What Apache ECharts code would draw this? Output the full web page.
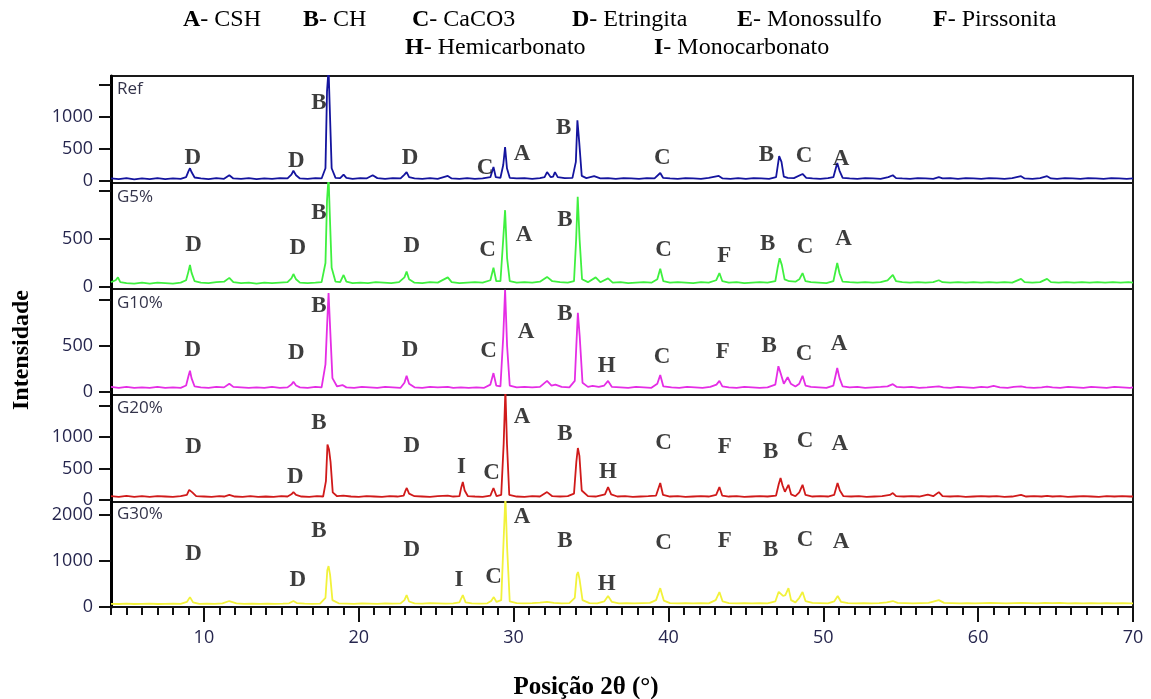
<!DOCTYPE html>
<html>
<head>
<meta charset="utf-8">
<script src="https://cdn.jsdelivr.net/npm/echarts@6/dist/echarts.min.js"></script>
<style>
html,body{margin:0;padding:0;background:#fff;}
#chart{width:1151px;height:699px;}
</style>
</head>
<body>
<div id="chart"></div>
<script>
// ---------- DATA ----------
const panelNames = ['Ref', 'G5%', 'G10%', 'G20%', 'G30%'];
const panelColors = ['#14149e', '#3ff03f', '#e52de5', '#d01a1a', '#f2f23a'];

const xLabels = [10, 20, 30, 40, 50, 60, 70];
const xMinorTicks = [4,5,6,7,8,9,11,12,13,14,15,16,17,18,19,21,22,23,24,25,26,27,28,29,31,32,33,34,35,36,37,38,39,41,42,43,44,45,46,47,48,49,51,52,53,54,55,56,57,58,59,61,62,63,64,65,66,67,68,69];

const yTicksRef = [0, 500, 1000, 1500];
const yLabelsRef = [0, 500, 1000];
const yTicksG5 = [0, 500, 1000];
const yLabelsG5 = [0, 500];
const yTicksG10 = [0, 500, 1000];
const yLabelsG10 = [0, 500];
const yTicksG20 = [0, 500, 1000, 1500];
const yLabelsG20 = [0, 500, 1000];
const yTicksG30 = [0, 1000, 2000];
const yLabelsG30 = [0, 1000, 2000];

const legendLine1 = [['A', '- CSH'], ['B', '- CH'], ['C', '- CaCO3'], ['D', '- Etringita'], ['E', '- Monossulfo'], ['F', '- Pirssonita']];
const legendLine2 = [['H', '- Hemicarbonato'], ['I', '- Monocarbonato']];

const refData = [[4.0,40],[4.5,30],[5.0,45],[5.5,25],[6.0,40],[6.5,30],[7.0,45],[7.5,30],[8.0,40],[8.5,35],[8.85,60],[9.0,150],[9.1,200],[9.2,140],[9.4,55],[9.8,40],[10.3,30],[10.8,45],[11.3,35],[11.64,90],[11.9,40],[12.4,35],[12.9,45],[13.4,30],[13.9,40],[14.4,35],[14.9,45],[15.4,40],[15.65,100],[15.78,160],[15.95,90],[16.2,40],[16.7,35],[17.2,45],[17.6,40],[17.85,200],[17.95,1400],[18.05,1750],[18.12,1200],[18.25,200],[18.5,50],[18.8,45],[19.02,100],[19.2,50],[19.6,35],[20.1,45],[20.5,40],[20.9,90],[21.2,45],[21.7,35],[22.2,45],[22.7,40],[22.95,100],[23.09,140],[23.25,60],[23.6,40],[24.1,35],[24.6,45],[25.1,35],[25.75,80],[26.0,40],[26.5,35],[27.0,45],[27.5,35],[28.0,40],[28.5,60],[28.7,220],[28.85,60],[29.15,50],[29.33,250],[29.45,530],[29.57,200],[29.75,50],[30.2,40],[30.7,45],[31.2,35],[31.7,45],[32.0,60],[32.16,140],[32.4,60],[32.55,70],[32.67,140],[32.85,60],[33.3,45],[33.8,50],[34.02,300],[34.12,950],[34.24,600],[34.4,80],[34.7,45],[35.2,75],[35.6,40],[36.1,45],[36.6,35],[37.1,45],[37.6,40],[38.1,35],[38.6,45],[39.1,40],[39.47,125],[39.65,50],[40.1,40],[40.6,35],[41.1,45],[41.6,40],[42.1,35],[42.6,50],[43.25,80],[43.5,40],[44.0,35],[44.5,45],[45.0,35],[45.5,45],[46.0,40],[46.5,35],[46.95,60],[47.15,390],[47.3,300],[47.45,70],[47.7,50],[48.1,45],[48.66,110],[48.9,50],[49.3,40],[49.8,35],[50.3,45],[50.65,60],[50.9,280],[51.05,160],[51.25,50],[51.7,40],[52.2,35],[52.7,45],[53.2,40],[53.7,35],[54.2,60],[54.49,90],[54.7,45],[55.1,40],[55.6,35],[56.1,45],[56.6,40],[57.1,35],[57.46,60],[57.7,40],[58.2,45],[58.7,35],[59.2,45],[59.7,40],[60.2,35],[60.7,45],[61.2,40],[61.7,35],[62.2,45],[62.77,75],[63.0,40],[63.5,35],[64.0,45],[64.45,75],[64.7,40],[65.1,35],[65.6,45],[66.1,40],[66.6,35],[67.1,45],[67.6,40],[68.1,35],[68.6,45],[69.1,40],[69.6,35],[70.0,40]];

const g5Data = [[4.0,50],[4.3,70],[4.45,100],[4.6,50],[5.0,40],[5.5,35],[6.0,45],[6.5,35],[7.0,45],[7.5,40],[8.0,35],[8.5,45],[8.85,70],[9.0,160],[9.1,230],[9.2,150],[9.4,60],[9.8,45],[10.3,40],[10.8,50],[11.3,55],[11.64,95],[11.9,50],[12.4,40],[12.9,45],[13.4,35],[13.9,45],[14.4,40],[14.9,45],[15.4,50],[15.65,90],[15.78,135],[15.95,80],[16.2,45],[16.7,40],[17.2,45],[17.6,50],[17.85,250],[17.95,900],[18.05,1150],[18.12,800],[18.25,200],[18.5,55],[18.8,50],[19.02,125],[19.2,55],[19.6,40],[20.1,45],[20.6,40],[21.1,50],[21.6,45],[22.1,40],[22.6,50],[22.95,100],[23.09,160],[23.25,80],[23.6,45],[24.1,40],[24.6,50],[25.1,45],[25.75,100],[26.0,50],[26.5,40],[27.0,45],[27.5,50],[28.0,45],[28.5,70],[28.7,200],[28.88,60],[29.15,60],[29.33,500],[29.45,800],[29.58,300],[29.75,60],[30.2,45],[30.7,50],[31.2,45],[31.7,55],[32.16,105],[32.5,60],[33.0,50],[33.5,45],[33.9,60],[34.04,500],[34.14,940],[34.26,500],[34.42,80],[34.8,50],[35.3,100],[35.6,50],[36.1,90],[36.4,45],[36.9,50],[37.4,40],[37.9,45],[38.4,50],[38.9,45],[39.28,80],[39.47,190],[39.67,60],[40.1,45],[40.6,50],[41.1,45],[41.6,40],[42.1,50],[42.6,45],[43.08,70],[43.29,145],[43.48,60],[43.9,45],[44.4,50],[44.9,40],[45.4,45],[45.9,50],[46.4,45],[46.9,60],[47.05,200],[47.18,300],[47.32,230],[47.5,80],[47.8,60],[48.2,55],[48.45,80],[48.66,145],[48.85,60],[49.2,50],[49.7,45],[50.2,40],[50.65,60],[50.9,250],[51.05,140],[51.25,55],[51.7,50],[52.2,45],[52.7,50],[53.2,45],[53.7,50],[54.15,70],[54.49,125],[54.7,60],[55.1,50],[55.6,45],[56.1,50],[56.6,45],[57.1,50],[57.46,70],[57.7,50],[58.2,45],[58.7,50],[59.2,45],[59.7,50],[60.2,45],[60.7,50],[61.2,45],[61.7,50],[62.2,45],[62.77,85],[63.0,50],[63.5,45],[64.0,50],[64.45,85],[64.7,50],[65.2,45],[65.7,50],[66.2,45],[66.7,50],[67.2,45],[67.7,50],[68.2,45],[68.7,50],[69.2,45],[69.7,50],[70.0,45]];

const g10Data = [[4.0,55],[4.5,45],[5.0,55],[5.5,45],[6.0,50],[6.5,45],[7.0,55],[7.5,45],[8.0,50],[8.5,45],[8.85,70],[9.0,170],[9.1,230],[9.2,150],[9.4,60],[9.8,50],[10.3,45],[10.8,55],[11.3,50],[11.64,90],[11.9,55],[12.4,50],[12.9,45],[13.4,50],[13.9,45],[14.4,55],[14.9,45],[15.4,50],[15.65,80],[15.78,110],[15.95,70],[16.2,50],[16.7,45],[17.2,55],[17.6,50],[17.85,300],[17.95,705],[18.05,1075],[18.15,700],[18.3,150],[18.6,60],[18.95,75],[19.2,50],[19.7,45],[20.2,55],[20.7,50],[21.2,45],[21.7,55],[22.2,50],[22.7,45],[22.95,100],[23.09,175],[23.25,90],[23.6,50],[24.1,45],[24.6,55],[25.1,50],[25.75,55],[26.1,45],[26.6,50],[27.1,45],[27.6,50],[28.1,45],[28.5,80],[28.7,205],[28.88,70],[29.15,60],[29.33,600],[29.45,1110],[29.58,500],[29.75,70],[30.2,50],[30.7,55],[31.2,50],[31.7,55],[32.16,120],[32.45,70],[32.7,80],[33.1,55],[33.6,50],[33.95,120],[34.05,500],[34.15,860],[34.27,600],[34.45,100],[34.8,55],[35.1,65],[35.5,55],[35.85,70],[36.1,120],[36.35,55],[36.9,50],[37.4,45],[37.9,55],[38.4,50],[38.9,45],[39.28,90],[39.47,185],[39.67,60],[40.2,50],[40.7,45],[41.2,55],[41.7,50],[42.2,45],[42.7,55],[43.1,80],[43.29,120],[43.48,60],[43.9,50],[44.4,45],[44.9,55],[45.4,50],[45.9,45],[46.4,50],[46.9,80],[47.1,280],[47.25,200],[47.45,90],[47.7,160],[47.9,90],[48.2,60],[48.45,90],[48.66,175],[48.85,70],[49.2,55],[49.7,50],[50.2,45],[50.65,70],[50.9,260],[51.05,150],[51.25,60],[51.7,50],[52.2,55],[52.7,45],[53.2,50],[53.7,55],[54.15,60],[54.49,85],[54.75,55],[55.2,50],[55.7,55],[56.2,45],[56.7,50],[57.46,60],[57.75,50],[58.2,45],[58.7,55],[59.2,50],[59.7,45],[60.2,55],[60.6,50],[61.0,65],[61.4,50],[61.9,45],[62.3,55],[62.77,60],[63.1,50],[63.6,45],[64.1,50],[64.45,58],[64.8,50],[65.3,45],[65.8,55],[66.3,50],[66.8,45],[67.3,55],[67.8,50],[68.3,45],[68.8,55],[69.3,50],[69.8,45],[70.0,50]];

const g20Data = [[4.0,60],[4.5,50],[5.0,65],[5.5,50],[6.0,60],[6.5,50],[7.0,60],[7.5,55],[8.0,50],[8.5,60],[8.9,80],[9.05,160],[9.12,190],[9.25,120],[9.5,60],[10.0,55],[10.5,50],[11.0,60],[11.3,55],[11.64,80],[12.0,55],[12.5,50],[13.0,60],[13.5,50],[14.0,55],[14.5,50],[15.0,60],[15.4,55],[15.65,90],[15.78,125],[15.95,80],[16.3,55],[16.8,50],[17.3,60],[17.7,55],[17.88,300],[17.98,880],[18.08,800],[18.18,600],[18.32,120],[18.6,60],[19.0,70],[19.5,55],[20.0,50],[20.5,60],[21.0,55],[21.5,50],[22.0,60],[22.5,55],[22.9,70],[23.02,150],[23.1,190],[23.25,100],[23.6,60],[24.1,55],[24.6,50],[25.1,60],[25.75,70],[26.1,55],[26.5,60],[26.62,200],[26.72,285],[26.84,150],[27.05,60],[27.5,55],[28.0,50],[28.5,70],[28.7,190],[28.9,60],[29.2,80],[29.36,900],[29.47,1750],[29.57,900],[29.72,80],[30.2,55],[30.7,50],[31.2,60],[31.7,55],[32.16,125],[32.5,60],[33.0,55],[33.5,60],[33.9,100],[34.05,600],[34.15,825],[34.25,700],[34.4,150],[34.8,60],[35.3,55],[35.9,90],[36.1,205],[36.3,90],[36.7,55],[37.2,60],[37.7,50],[38.2,55],[38.7,60],[39.2,70],[39.47,270],[39.65,80],[40.1,55],[40.6,60],[41.1,50],[41.6,55],[42.1,60],[42.6,55],[43.08,80],[43.29,205],[43.47,70],[43.9,55],[44.4,60],[44.9,50],[45.4,55],[45.9,60],[46.4,55],[46.95,70],[47.12,250],[47.24,350],[47.37,230],[47.52,130],[47.75,240],[47.92,90],[48.2,60],[48.45,120],[48.66,240],[48.85,80],[49.3,55],[49.8,60],[50.3,55],[50.7,80],[50.92,270],[51.07,150],[51.3,60],[51.8,55],[52.3,60],[52.8,50],[53.3,55],[53.8,60],[54.3,80],[54.49,110],[54.7,60],[55.2,55],[55.7,60],[56.2,55],[56.75,85],[57.1,60],[57.46,125],[57.7,60],[58.2,55],[58.7,60],[59.2,50],[59.7,55],[60.2,60],[60.7,55],[61.2,60],[61.7,50],[62.2,55],[62.77,80],[63.1,55],[63.6,60],[64.1,55],[64.45,65],[64.8,55],[65.3,60],[65.8,50],[66.3,55],[66.8,60],[67.3,55],[67.8,50],[68.3,60],[68.8,55],[69.3,60],[69.8,55],[70.0,55]];

const g30Data = [[4.0,70],[4.5,65],[5.0,75],[5.5,65],[6.0,70],[6.5,75],[7.0,65],[7.5,70],[8.0,75],[8.5,70],[8.9,110],[9.1,215],[9.3,100],[9.7,70],[10.2,75],[10.7,70],[11.2,80],[11.64,130],[12.1,80],[12.6,70],[13.1,75],[13.6,70],[14.1,75],[14.6,70],[15.1,75],[15.5,80],[15.78,130],[16.0,85],[16.5,75],[17.0,70],[17.5,75],[17.85,200],[17.97,800],[18.05,890],[18.15,700],[18.3,150],[18.7,80],[19.2,75],[19.7,70],[20.2,80],[20.7,75],[21.2,70],[21.7,80],[22.2,75],[22.7,80],[22.95,150],[23.09,260],[23.25,120],[23.6,80],[24.1,75],[24.6,85],[25.1,80],[25.6,75],[26.1,80],[26.5,100],[26.72,260],[26.9,100],[27.3,80],[27.8,75],[28.3,80],[28.55,130],[28.72,215],[28.9,110],[29.2,150],[29.36,1500],[29.47,2400],[29.58,1300],[29.75,120],[30.2,85],[30.7,80],[31.2,85],[31.7,95],[32.16,110],[32.6,90],[33.1,80],[33.6,85],[33.95,200],[34.08,700],[34.16,760],[34.26,600],[34.45,150],[34.9,85],[35.4,80],[35.85,120],[36.1,240],[36.35,110],[36.8,80],[37.3,85],[37.8,80],[38.3,85],[38.8,90],[39.2,150],[39.47,410],[39.7,140],[40.1,85],[40.6,80],[41.1,85],[41.6,80],[42.1,85],[42.6,80],[43.05,150],[43.29,325],[43.5,120],[43.9,85],[44.4,80],[44.9,85],[45.4,80],[45.9,85],[46.4,80],[46.9,120],[47.12,330],[47.24,370],[47.4,240],[47.55,260],[47.75,410],[47.92,150],[48.2,100],[48.45,200],[48.66,325],[48.85,130],[49.3,90],[49.8,85],[50.3,80],[50.7,120],[50.93,240],[51.15,110],[51.6,85],[52.1,80],[52.6,85],[53.1,80],[53.6,85],[54.1,100],[54.49,130],[54.8,90],[55.3,85],[55.8,80],[56.3,85],[56.8,90],[57.46,150],[57.8,90],[58.3,85],[58.8,80],[59.3,85],[59.8,80],[60.3,85],[60.8,90],[61.3,85],[61.8,80],[62.3,85],[62.8,90],[63.3,85],[63.8,80],[64.3,90],[64.8,85],[65.3,90],[65.8,80],[66.3,85],[66.8,80],[67.3,85],[67.8,80],[68.3,85],[68.8,80],[69.3,85],[69.8,80],[70.0,80]];

// peak labels: [letter, 2theta, intensity position]
const refPeakLabels = [['D',9.29,355],['D',15.97,317],['B',17.42,1214],['D',23.31,355],['C',28.16,208],['A',30.54,417],['B',33.24,833],['C',39.6,355],['B',46.33,406],['C',48.75,390],['A',51.14,339]];
const g5PeakLabels = [['D',9.33,438],['D',16.06,410],['B',17.42,774],['D',23.42,430],['C',28.31,386],['A',30.68,542],['B',33.32,698],['C',39.69,386],['F',43.61,326],['B',46.4,448],['C',48.82,420],['A',51.3,497]];
const g10PeakLabels = [['D',9.29,457],['D',15.97,427],['B',17.42,935],['D',23.31,457],['C',28.38,446],['A',30.81,655],['B',33.32,848],['H',36.01,286],['C',39.58,377],['F',43.5,438],['B',46.5,503],['C',48.75,410],['A',51.01,518]];
const g20PeakLabels = [['D',9.33,846],['D',15.9,360],['B',17.42,1217],['D',23.42,862],['I',26.64,529],['C',28.58,423],['A',30.54,1323],['B',33.32,1047],['H',36.09,450],['C',39.69,899],['F',43.64,846],['B',46.6,757],['C',48.82,936],['A',51.07,884]];
const g30PeakLabels = [['D',9.33,1146],['D',16.06,587],['B',17.42,1659],['D',23.42,1239],['I',26.48,587],['C',28.71,646],['A',30.54,1963],['B',33.32,1435],['H',36.01,500],['C',39.69,1398],['F',43.64,1435],['B',46.6,1239],['C',48.82,1457],['A',51.14,1420]];

// ---------- LAYOUT ----------
const panelData = [refData, g5Data, g10Data, g20Data, g30Data];
const panelLabels = [refPeakLabels, g5PeakLabels, g10PeakLabels, g20PeakLabels, g30PeakLabels];
const panelYTicks = [yTicksRef, yTicksG5, yTicksG10, yTicksG20, yTicksG30];
const panelYLabels = [yLabelsRef, yLabelsG5, yLabelsG10, yLabelsG20, yLabelsG30];
const panelYRange = [[-31, 1641], [-21, 1083], [-33, 1119], [-32, 1666], [0, 2283]];
const panelBox = [[76, 107], [183, 106], [289, 106], [395, 107], [502, 105]];

const tickColor = '#26264e';
const sansFont = 'Open Sans';
const serifFont = 'Liberation Serif';
const plainNum = v => String(v);

const grids = panelBox.map(b => ({
  left: 111, width: 1022, top: b[0], height: b[1],
  show: true, borderColor: '#1a1a1a', borderWidth: 2, backgroundColor: 'transparent'
}));

const xAxes = panelBox.map((b, i) => ({
  type: 'value', gridIndex: i, min: 4, max: 70, position: 'bottom',
  axisLine: { show: i === 4, lineStyle: { color: '#111', width: 2 } },
  axisTick: i === 4 ? { show: true, customValues: xLabels, length: 15, inside: false, lineStyle: { color: '#111', width: 2 } } : { show: false },
  axisLabel: i === 4 ? { show: true, customValues: xLabels, formatter: plainNum, color: tickColor, fontSize: 18, fontFamily: sansFont, margin: 22 } : { show: false },
  splitLine: { show: false }
}));
xAxes.push({
  type: 'value', gridIndex: 4, min: 4, max: 70, position: 'bottom',
  axisLine: { show: false },
  axisTick: { show: true, customValues: xMinorTicks, length: 8, lineStyle: { color: '#111', width: 2 } },
  axisLabel: { show: false },
  splitLine: { show: false }
});

const yAxes = panelBox.map((b, i) => ({
  type: 'value', gridIndex: i, min: panelYRange[i][0], max: panelYRange[i][1],
  axisLine: { show: true, onZero: false, lineStyle: { color: '#000', width: 3 } },
  axisTick: { show: true, customValues: panelYTicks[i], length: 12, lineStyle: { color: '#111', width: 2 } },
  axisLabel: { show: true, customValues: panelYLabels[i], formatter: plainNum, color: tickColor, fontSize: 18, fontFamily: sansFont, margin: 18 },
  splitLine: { show: false }
}));

const series = [];
panelData.forEach((d, i) => {
  series.push({
    type: 'line', xAxisIndex: i, yAxisIndex: i, data: d, showSymbol: false, symbol: 'none',
    lineStyle: { color: panelColors[i], width: 1.8 }, clip: true, z: 3
  });
  series.push({
    type: 'scatter', xAxisIndex: i, yAxisIndex: i, symbolSize: 0, silent: true, z: 5,
    data: panelLabels[i].map(p => ({ value: [p[1], p[2]], name: p[0] })),
    label: { show: true, position: 'inside', formatter: p => p.name, color: '#0d0d0d',
      fontFamily: serifFont, fontWeight: 'bold', fontSize: 23 }
  });
});

const legendPos1 = [183, 303, 412, 572, 737, 933];
const legendPos2 = [405, 654];
const rich = {
  b: { fontFamily: serifFont, fontWeight: 'bold', fontSize: 24, fill: '#000' },
  n: { fontFamily: serifFont, fontWeight: 'normal', fontSize: 24, fill: '#000' }
};
const graphics = [];
legendLine1.forEach((it, k) => graphics.push({
  type: 'text', x: legendPos1[k], y: 20,
  style: { text: '{b|' + it[0] + '}{n|' + it[1] + '}', rich: rich, verticalAlign: 'middle', align: 'left', fill: '#000' }
}));
legendLine2.forEach((it, k) => graphics.push({
  type: 'text', x: legendPos2[k], y: 48,
  style: { text: '{b|' + it[0] + '}{n|' + it[1] + '}', rich: rich, verticalAlign: 'middle', align: 'left', fill: '#000' }
}));
const nameY = [89, 197, 303, 408, 514];
panelNames.forEach((n, i) => graphics.push({
  type: 'text', x: 117, y: nameY[i], z: 10,
  style: { text: n, font: '17px "Open Sans"', fill: '#33334a', verticalAlign: 'middle', align: 'left' }
}));
graphics.push({
  type: 'text', x: 22, y: 350, rotation: Math.PI / 2,
  style: { text: 'Intensidade', font: 'bold 24px "Liberation Serif"', fill: '#000', align: 'center', verticalAlign: 'middle' }
});
graphics.push({
  type: 'text', x: 586, y: 688,
  style: { text: 'Posição 2θ (°)', font: 'bold 25px "Liberation Serif"', fill: '#000', align: 'center', verticalAlign: 'middle' }
});

const chart = echarts.init(document.getElementById('chart'), null, { renderer: 'canvas' });
chart.setOption({
  animation: false,
  backgroundColor: '#fff',
  grid: grids,
  xAxis: xAxes,
  yAxis: yAxes,
  series: series,
  graphic: graphics
});
</script>
</body>
</html>
